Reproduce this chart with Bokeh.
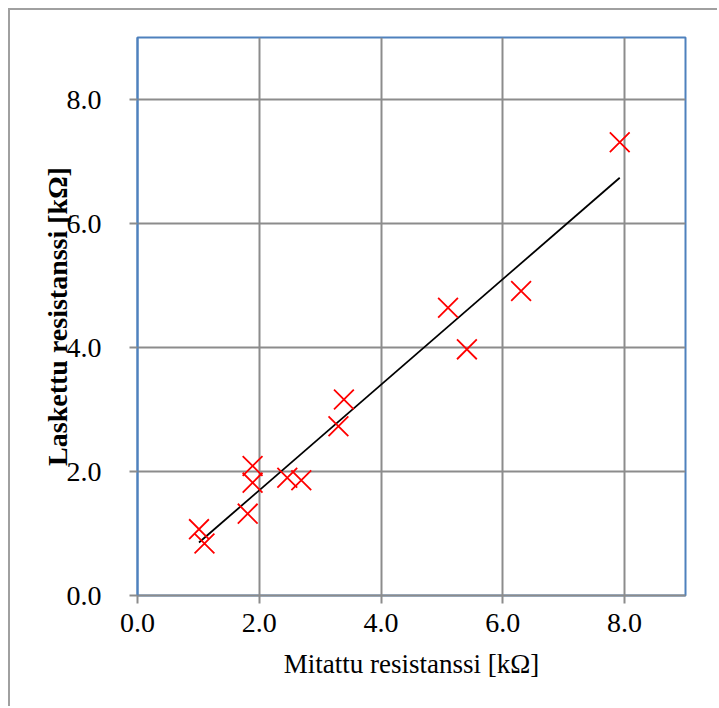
import numpy as np
from bokeh.plotting import figure
from bokeh.models import Range1d, FixedTicker, PrintfTickFormatter
from bokeh.embed import file_html
from bokeh.resources import INLINE

# measured resistance [kOhm]
measured = [1.01, 1.10, 1.81, 1.89, 1.89, 2.46, 2.69, 3.30, 3.39, 5.10, 5.41, 6.30, 7.92]
# calculated resistance [kOhm]
calculated = [1.07, 0.84, 1.32, 2.09, 1.82, 1.90, 1.86, 2.73, 3.16, 4.64, 3.97, 4.91, 7.31]
tick_values = [0, 2, 4, 6, 8]

x_title = "Mitattu resistanssi [kΩ]"
y_title = "Laskettu resistanssi [kΩ]"

# linear trend line
coef = np.polyfit(measured, calculated, 1)
trend_x = [min(measured), max(measured)]
trend_y = [coef[0] * v + coef[1] for v in trend_x]

FONT = "Liberation Serif"
GRID = "#8c8c8c"
BLUE = "#4f81bd"

p = figure(width=709, height=698, output_backend="svg", toolbar_location=None,
           x_range=Range1d(0, 9), y_range=Range1d(0, 9),
           min_border_left=127, min_border_right=34, min_border_top=27, min_border_bottom=113)
p.styles = {"margin-left": "8px", "margin-top": "8px",
            "border-left": "2px solid #a0a0a0", "border-top": "2px solid #a0a0a0"}

p.outline_line_color = BLUE
p.outline_line_width = 2

for ax in (p.xaxis[0], p.yaxis[0]):
    ax.ticker = FixedTicker(ticks=tick_values)
    ax.formatter = PrintfTickFormatter(format="%.1f")
    ax.major_label_text_font = FONT
    ax.major_label_text_font_size = "28px"
    ax.major_label_text_color = "#000000"
    ax.axis_label_text_font = FONT
    ax.axis_label_text_color = "#000000"
    ax.major_tick_in = 0
    ax.major_tick_out = 8
    ax.major_tick_line_color = GRID
    ax.major_tick_line_width = 2
    ax.minor_tick_line_color = None
    ax.axis_line_width = 2

p.xaxis.axis_label = x_title
p.xaxis.axis_label_text_font_style = "normal"
p.xaxis.axis_label_text_font_size = "27px"
p.xaxis.axis_line_color = GRID
p.xaxis.major_label_standoff = 10
p.xaxis.axis_label_standoff = 14

p.yaxis.axis_label = y_title
p.yaxis.axis_label_text_font_style = "bold"
p.yaxis.axis_label_text_font_size = "28px"
p.yaxis.axis_line_color = BLUE
p.yaxis.major_label_standoff = 28
p.yaxis.axis_label_standoff = -9

p.xgrid.ticker = FixedTicker(ticks=tick_values)
p.ygrid.ticker = FixedTicker(ticks=tick_values)
p.grid.grid_line_color = GRID
p.grid.grid_line_width = 2

p.line(trend_x, trend_y, line_color="black", line_width=1.8)
p.scatter(measured, calculated, marker="x", size=28, line_color="#ff0000", line_width=1.8)

open("out.html", "w").write(file_html(p, INLINE))
